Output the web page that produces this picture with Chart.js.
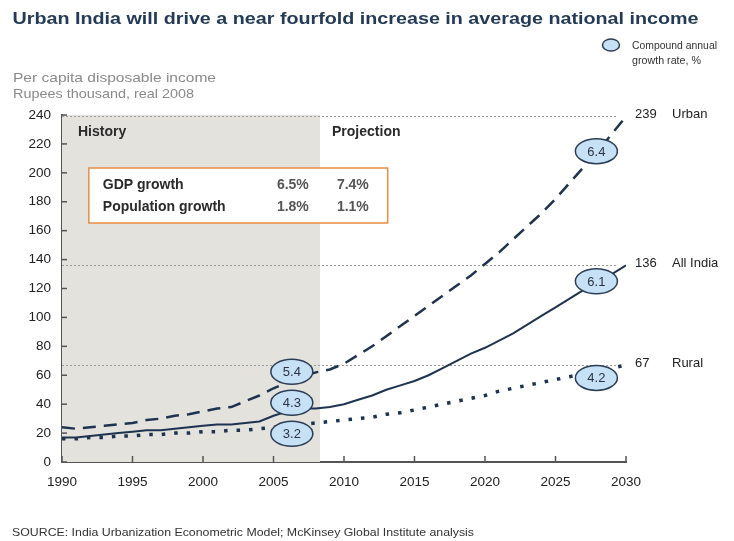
<!DOCTYPE html>
<html>
<head>
<meta charset="utf-8">
<script src="https://cdn.jsdelivr.net/npm/chart.js@4.4.0/dist/chart.umd.min.js"></script>
<style>
  html, body { margin: 0; padding: 0; background: #fff; }
  #wrap { position: relative; width: 734px; height: 541px; }
</style>
</head>
<body>
<div id="wrap"><canvas id="income-chart" width="734" height="541"></canvas></div>
<script>
// Per capita disposable income, Rupees thousand (real 2008)
const years = [1990, 1991, 1992, 1993, 1994, 1995, 1996, 1997, 1998, 1999,
               2000, 2001, 2002, 2003, 2004, 2005, 2006, 2007, 2008, 2009,
               2010, 2011, 2012, 2013, 2014, 2015, 2016, 2017, 2018, 2019,
               2020, 2021, 2022, 2023, 2024, 2025, 2026, 2027, 2028, 2029, 2030];
const urban = [24, 23, 24, 25, 26, 27, 29, 30, 32, 33,
               35, 37, 38, 42, 46, 51, 55, 59, 62, 64,
               68, 74, 80, 87, 94, 101, 108, 115, 122, 129,
               137, 145, 154, 163, 172, 182, 193, 204, 215, 227, 239];
const allIndia = [17, 17, 18, 19, 20, 21, 22, 22, 23, 24,
                  25, 26, 26, 27, 28, 32, 35, 37, 37, 38,
                  40, 43, 46, 50, 53, 56, 60, 65, 70, 75,
                  79, 84, 89, 95, 101, 107, 113, 119, 125, 130, 136];
const rural = [16, 16, 17, 17, 18, 18, 19, 19, 20, 20,
               21, 21, 22, 22, 23, 24, 25, 26, 27, 28,
               29, 30, 31, 33, 34, 36, 38, 40, 42, 44,
               46, 49, 51, 53, 55, 57, 59, 61, 63, 65, 67];

const seriesNames = ['Urban', 'All India', 'Rural'];
const xTicks = [1990, 1995, 2000, 2005, 2010, 2015, 2020, 2025, 2030];
const yTicks = [0, 20, 40, 60, 80, 100, 120, 140, 160, 180, 200, 220, 240];

// compound annual growth rates, %
const historyCagr = ['5.4', '4.3', '3.2'];
const projectionCagr = ['6.4', '6.1', '4.2'];

const growthRows = ['GDP growth', 'Population growth'];
const historyGrowth = ['6.5%', '1.8%'];
const projectionGrowth = ['7.4%', '1.1%'];

const lastHistoryYear = 2008.3;

const NAVY = '#1e3350';
const FONT = '"Liberation Sans", Arial, sans-serif';

function toPoints(values) {
    return values.map((v, i) => ({ x: years[i], y: v }));
}

// text squeezed or stretched horizontally to a given width
function fitText(ctx, text, x, y, width) {
    const w = ctx.measureText(text).width;
    ctx.save();
    ctx.translate(x, y);
    ctx.scale(width / w, 1);
    ctx.fillText(text, 0, 0);
    ctx.restore();
}

function ellipse(ctx, cx, cy, rx, ry, text, fontSize) {
    ctx.save();
    ctx.beginPath();
    ctx.ellipse(cx, cy, rx, ry, 0, 0, Math.PI * 2);
    ctx.fillStyle = '#c6e1f6';
    ctx.fill();
    ctx.lineWidth = 1.5;
    ctx.strokeStyle = '#2c3e55';
    ctx.stroke();
    if (text) {
        ctx.fillStyle = '#2a3440';
        ctx.font = fontSize + 'px ' + FONT;
        ctx.textAlign = 'center';
        ctx.textBaseline = 'middle';
        ctx.fillText(text, cx, cy + 1);
    }
    ctx.restore();
}

const decorations = {
    id: 'decorations',
    beforeDatasetsDraw(chart) {
        const { ctx, chartArea, scales: { x, y } } = chart;
        ctx.save();

        // history period shading
        const xEnd = x.getPixelForValue(lastHistoryYear);
        ctx.fillStyle = '#e4e2dd';
        ctx.fillRect(chartArea.left, y.getPixelForValue(240), xEnd - chartArea.left, y.getPixelForValue(0) - y.getPixelForValue(240));

        // dotted guides at the 2030 values
        ctx.strokeStyle = '#9a9a9a';
        ctx.lineWidth = 1;
        ctx.setLineDash([2, 2]);
        [urban, allIndia, rural].forEach(s => {
            const py = Math.round(y.getPixelForValue(s[s.length - 1])) + 0.5;
            ctx.beginPath();
            ctx.moveTo(chartArea.left, py);
            ctx.lineTo(x.getPixelForValue(2029.4), py);
            ctx.stroke();
        });
        ctx.setLineDash([]);

        // period headings
        ctx.fillStyle = '#2a2a2a';
        ctx.font = 'bold 14px ' + FONT;
        ctx.textBaseline = 'middle';
        ctx.fillText('History', chartArea.left + 16, 132);
        ctx.fillText('Projection', xEnd + 12, 132);

        // growth assumptions box
        const bx = x.getPixelForValue(1991.9), by = 168;
        const bw = x.getPixelForValue(2013.1) - bx, bh = 55;
        ctx.fillStyle = '#fff';
        ctx.fillRect(bx, by, bw, bh);
        ctx.strokeStyle = '#e98c45';
        ctx.lineWidth = 1.5;
        ctx.strokeRect(bx, by, bw, bh);
        ctx.font = 'bold 14px ' + FONT;
        growthRows.forEach((row, i) => {
            const ty = by + 17 + i * 22;
            ctx.fillStyle = '#2a2a2a';
            ctx.textAlign = 'left';
            ctx.fillText(row, bx + 14, ty);
            ctx.fillStyle = '#555';
            ctx.textAlign = 'right';
            ctx.fillText(historyGrowth[i], bx + 220, ty);
            ctx.fillText(projectionGrowth[i], bx + 280, ty);
        });
        ctx.restore();
    },
    afterDatasetsDraw(chart) {
        const { ctx, chartArea, scales: { x, y } } = chart;
        ctx.save();

        // inward tick marks
        ctx.strokeStyle = '#555';
        ctx.lineWidth = 1.5;
        yTicks.forEach(v => {
            const py = y.getPixelForValue(v);
            ctx.beginPath();
            ctx.moveTo(chartArea.left, py);
            ctx.lineTo(chartArea.left + 5, py);
            ctx.stroke();
        });
        xTicks.forEach(v => {
            const px = x.getPixelForValue(v);
            ctx.beginPath();
            ctx.moveTo(px, chartArea.bottom);
            ctx.lineTo(px, chartArea.bottom - 6);
            ctx.stroke();
        });

        // growth-rate bubbles
        const hx = x.getPixelForValue(2006.3);
        const hy = y.getPixelForValue(41);
        historyCagr.forEach((t, i) => ellipse(ctx, hx, hy + (i - 1) * 31, 21, 12.5, t, 13));
        const px = x.getPixelForValue(2027.9);
        const idx = years.indexOf(2028);
        [urban, allIndia, rural].forEach((s, i) => {
            const cy = y.getPixelForValue(s[idx]) + (i === 2 ? 7 : 0);
            ellipse(ctx, px, cy, 21, 12.5, projectionCagr[i], 13);
        });

        // end-of-line labels
        ctx.fillStyle = '#222';
        ctx.font = '13px ' + FONT;
        ctx.textBaseline = 'middle';
        [urban, allIndia, rural].forEach((s, i) => {
            const v = s[s.length - 1];
            const py = y.getPixelForValue(v) - 2;
            ctx.fillText(String(v), chartArea.right + 9, py);
            ctx.fillText(seriesNames[i], chartArea.right + 46, py);
        });
        ctx.restore();
    },
    afterDraw(chart) {
        const { ctx } = chart;
        ctx.save();
        ctx.textBaseline = 'alphabetic';
        ctx.fillStyle = '#243b57';
        ctx.font = 'bold 16px ' + FONT;
        fitText(ctx, 'Urban India will drive a near fourfold increase in average national income', 12.5, 23.5, 686);

        ctx.fillStyle = '#8a8a8a';
        ctx.font = '13.5px ' + FONT;
        fitText(ctx, 'Per capita disposable income', 13, 82, 203);
        fitText(ctx, 'Rupees thousand, real 2008', 13, 97.5, 181);

        ellipse(ctx, 611, 45, 8.5, 6, '', 0);
        ctx.fillStyle = '#333';
        ctx.font = '10.5px ' + FONT;
        fitText(ctx, 'Compound annual', 632, 49, 85);
        fitText(ctx, 'growth rate, %', 632, 64, 69);

        ctx.fillStyle = '#333';
        ctx.font = '11px ' + FONT;
        fitText(ctx, 'SOURCE: India Urbanization Econometric Model; McKinsey Global Institute analysis', 12, 536, 462);
        ctx.restore();
    }
};

new Chart(document.getElementById('income-chart'), {
    type: 'line',
    data: {
        datasets: [
            { label: seriesNames[0], data: toPoints(urban), borderColor: NAVY, borderWidth: 2.5, borderDash: [13, 8], pointRadius: 0 },
            { label: seriesNames[1], data: toPoints(allIndia), borderColor: NAVY, borderWidth: 2, pointRadius: 0 },
            { label: seriesNames[2], data: toPoints(rural), borderColor: NAVY, borderWidth: 3.5, borderDash: [3.5, 9], pointRadius: 0 }
        ]
    },
    options: {
        responsive: false,
        animation: false,
        layout: { padding: { top: 115, right: 108, bottom: 39, left: 0 } },
        plugins: { legend: { display: false }, tooltip: { enabled: false } },
        scales: {
            x: {
                type: 'linear',
                min: 1990,
                max: 2030,
                afterBuildTicks: scale => { scale.ticks = xTicks.map(v => ({ value: v })); },
                afterFit: scale => { scale.height = 40; },
                ticks: { callback: v => String(v), color: '#222', font: { family: FONT, size: 13.5 }, padding: 12, maxRotation: 0 },
                grid: { display: false, drawTicks: false },
                border: { display: true, color: '#555', width: 2 }
            },
            y: {
                min: 0,
                max: 240,
                afterBuildTicks: scale => { scale.ticks = yTicks.map(v => ({ value: v })); },
                afterFit: scale => { scale.width = 62; },
                ticks: { color: '#222', font: { family: FONT, size: 13.5 }, padding: 11 },
                grid: { display: false, drawTicks: false },
                border: { display: true, color: '#555', width: 2 }
            }
        }
    },
    plugins: [decorations]
});
</script>
</body>
</html>
